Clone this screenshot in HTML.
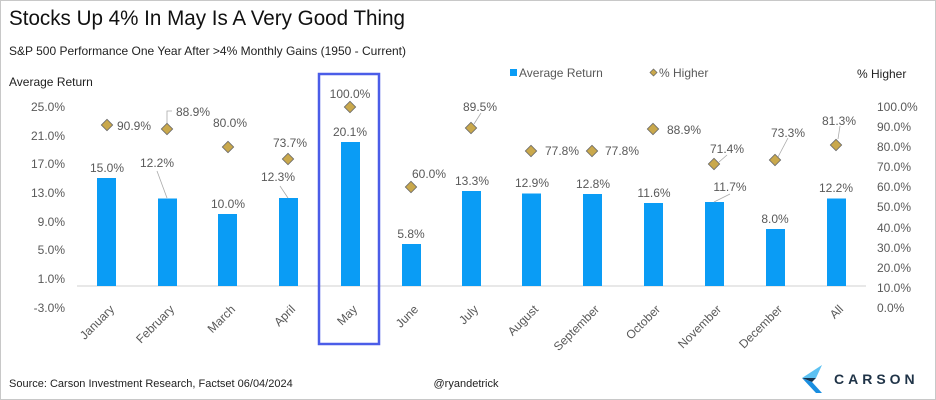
<!DOCTYPE html>
<html><head><meta charset="utf-8"><style>
body{margin:0;background:#fff}
svg{display:block;font-family:"Liberation Sans",sans-serif}
.v{font-size:12px;fill:#595959}
.ax{font-size:12px;fill:#595959}
</style></head><body>
<svg width="936" height="400" viewBox="0 0 936 400">
<rect x="0.5" y="0.5" width="935" height="399" fill="#fff" stroke="#c8c8c8"/>
<text x="9" y="25" font-size="21" fill="#111" textLength="396" lengthAdjust="spacingAndGlyphs">Stocks Up 4% In May Is A Very Good Thing</text>
<text x="9" y="55" font-size="12" fill="#222">S&amp;P 500 Performance One Year After &gt;4% Monthly Gains (1950 - Current)</text>
<text x="9" y="86" font-size="12" fill="#222">Average Return</text>
<text x="857" y="78" font-size="12" fill="#222">% Higher</text>
<rect x="510" y="69" width="7" height="7" fill="#0a9cf5"/>
<text x="519" y="77" class="v">Average Return</text>
<rect x="651" y="70" width="5" height="5" fill="#c9a84c" stroke="#666" stroke-width="0.7" transform="rotate(45 653.5 72.5)"/>
<text x="659" y="77" class="v">% Higher</text>
<g class="ax" text-anchor="end">
<text x="65" y="111">25.0%</text><text x="65" y="140">21.0%</text><text x="65" y="168">17.0%</text><text x="65" y="197">13.0%</text><text x="65" y="226">9.0%</text><text x="65" y="254">5.0%</text><text x="65" y="283">1.0%</text><text x="65" y="312">-3.0%</text>
</g>
<g class="ax">
<text x="877" y="111">100.0%</text><text x="877" y="131">90.0%</text><text x="877" y="151">80.0%</text><text x="877" y="171">70.0%</text><text x="877" y="191">60.0%</text><text x="877" y="211">50.0%</text><text x="877" y="232">40.0%</text><text x="877" y="252">30.0%</text><text x="877" y="272">20.0%</text><text x="877" y="292">10.0%</text><text x="877" y="312">0.0%</text>
</g>
<line x1="77" y1="286" x2="866" y2="286" stroke="#d0d0d0"/>
<g fill="#0a9cf5">
<rect x="97" y="178" width="19" height="108"/>
<rect x="158" y="198.5" width="19" height="87.5"/>
<rect x="218" y="214" width="19" height="72"/>
<rect x="279" y="198" width="19" height="88"/>
<rect x="341" y="142" width="19" height="144"/>
<rect x="402" y="244" width="19" height="42"/>
<rect x="462" y="191" width="19" height="95"/>
<rect x="522" y="193.5" width="19" height="92.5"/>
<rect x="583" y="194" width="19" height="92"/>
<rect x="644" y="203" width="19" height="83"/>
<rect x="705" y="202" width="19" height="84"/>
<rect x="766" y="229" width="19" height="57"/>
<rect x="827" y="198.5" width="19" height="87.5"/>
</g>
<g stroke="#aaa" stroke-width="0.8" fill="none">
<polyline points="167,198 157,171"/>
<polyline points="288,198 280,186"/>
<polyline points="714,202 730,194"/>
<polyline points="167,124 167,111 172,111"/>
<polyline points="719,162 727,155"/>
<polyline points="778,157 788,138"/>
<polyline points="838,139 840,126"/>
<polyline points="474,124 481,113"/>
</g>
<g class="v" text-anchor="middle">
<text x="107" y="172">15.0%</text>
<text x="157" y="167">12.2%</text>
<text x="228" y="208">10.0%</text>
<text x="278" y="181">12.3%</text>
<text x="350" y="136">20.1%</text>
<text x="411" y="238">5.8%</text>
<text x="472" y="185">13.3%</text>
<text x="532" y="187">12.9%</text>
<text x="593" y="188">12.8%</text>
<text x="654" y="197">11.6%</text>
<text x="730" y="191">11.7%</text>
<text x="775" y="223">8.0%</text>
<text x="836" y="192">12.2%</text>
<text x="230" y="127">80.0%</text>
<text x="290" y="147">73.7%</text>
<text x="350" y="98">100.0%</text>
<text x="480" y="111">89.5%</text>
<text x="727" y="153">71.4%</text>
<text x="788" y="137">73.3%</text>
<text x="839" y="125">81.3%</text>
</g>
<g class="v">
<text x="117" y="130">90.9%</text>
<text x="176" y="116">88.9%</text>
<text x="412" y="178">60.0%</text>
<text x="545" y="155">77.8%</text>
<text x="605" y="155">77.8%</text>
<text x="667" y="134">88.9%</text>
</g>
<g fill="#c9a84c" stroke="#666" stroke-width="0.8">
<rect x="-4" y="-4" width="8" height="8" transform="translate(107,125) rotate(45)"/>
<rect x="-4" y="-4" width="8" height="8" transform="translate(167,129) rotate(45)"/>
<rect x="-4" y="-4" width="8" height="8" transform="translate(228,147) rotate(45)"/>
<rect x="-4" y="-4" width="8" height="8" transform="translate(288,159) rotate(45)"/>
<rect x="-4" y="-4" width="8" height="8" transform="translate(350,107) rotate(45)"/>
<rect x="-4" y="-4" width="8" height="8" transform="translate(411,187) rotate(45)"/>
<rect x="-4" y="-4" width="8" height="8" transform="translate(471,128) rotate(45)"/>
<rect x="-4" y="-4" width="8" height="8" transform="translate(531,151) rotate(45)"/>
<rect x="-4" y="-4" width="8" height="8" transform="translate(592,151) rotate(45)"/>
<rect x="-4" y="-4" width="8" height="8" transform="translate(653,129) rotate(45)"/>
<rect x="-4" y="-4" width="8" height="8" transform="translate(714,164) rotate(45)"/>
<rect x="-4" y="-4" width="8" height="8" transform="translate(775,160) rotate(45)"/>
<rect x="-4" y="-4" width="8" height="8" transform="translate(836,145) rotate(45)"/>
</g>
<g class="v" text-anchor="end">
<text transform="translate(115,310) rotate(-45)">January</text>
<text transform="translate(175,310) rotate(-45)">February</text>
<text transform="translate(236,310) rotate(-45)">March</text>
<text transform="translate(296,310) rotate(-45)">April</text>
<text transform="translate(358,310) rotate(-45)">May</text>
<text transform="translate(419,310) rotate(-45)">June</text>
<text transform="translate(479,310) rotate(-45)">July</text>
<text transform="translate(539,310) rotate(-45)">August</text>
<text transform="translate(600,310) rotate(-45)">September</text>
<text transform="translate(661,310) rotate(-45)">October</text>
<text transform="translate(722,310) rotate(-45)">November</text>
<text transform="translate(783,310) rotate(-45)">December</text>
<text transform="translate(844,310) rotate(-45)">All</text>
</g>
<rect x="319" y="74" width="60" height="270" fill="none" stroke="#4b5de8" stroke-width="2.5"/>
<text x="9" y="387" font-size="11" fill="#222">Source: Carson Investment Research, Factset 06/04/2024</text>
<text x="466" y="387" font-size="11" fill="#222" text-anchor="middle">@ryandetrick</text>
<polygon points="822,365 802,378 816,378" fill="#5cc1f2"/>
<polygon points="802,378 816,378 812,382" fill="#17324d"/>
<polygon points="802,378 812,382 822,393 816,393" fill="#1a8ee0"/>
<text x="834" y="384" font-size="14" fill="#1f3347" letter-spacing="4" font-weight="bold">CARSON</text>
</svg>
</body></html>
